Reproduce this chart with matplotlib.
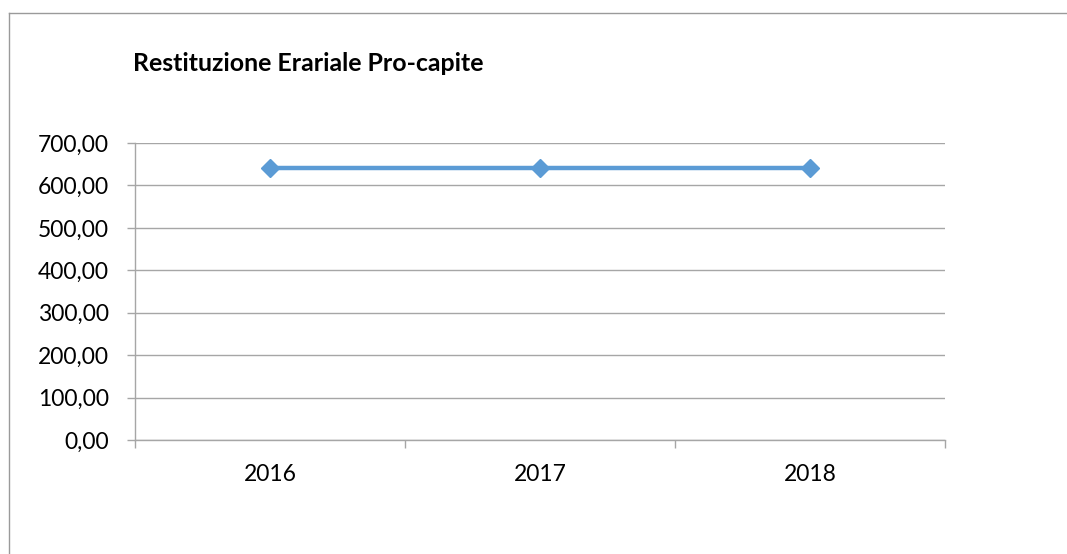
import matplotlib
matplotlib.use('Agg')
import matplotlib.pyplot as plt
from matplotlib.ticker import FuncFormatter, FixedLocator
from matplotlib.lines import Line2D

plt.rcParams['font.family'] = ['Lato', 'DejaVu Sans']

years = ['2016', '2017', '2018']
values = [640.0, 640.0, 640.0]
title = 'Restituzione Erariale Pro-capite'

W, H = 1067, 554
fig = plt.figure(figsize=(W / 100, H / 100), dpi=100)
ax = fig.add_axes([135 / W, 1 - 440 / H, (945 - 135) / W, (440 - 143) / H])

x = list(range(1, len(years) + 1))
ax.plot(x, values, color='#5B9BD5', lw=3.2, marker='D', ms=9,
        markerfacecolor='#5B9BD5', markeredgecolor='#5B9BD5', zorder=3,
        solid_capstyle='butt')

ax.set_xlim(0.5, len(years) + 0.5)
ax.set_ylim(0, 700)
ax.set_yticks(range(0, 701, 100))
ax.yaxis.set_major_formatter(FuncFormatter(lambda v, p: f'{v:.2f}'.replace('.', ',')))
ax.set_xticks(x)
ax.set_xticklabels(years)
ax.xaxis.set_minor_locator(FixedLocator([i + 0.5 for i in range(len(years) + 1)]))

grid_c = '#A6A6A6'
ax.grid(axis='y', color=grid_c, lw=1.0, zorder=0)
for s in ['top', 'right']:
    ax.spines[s].set_visible(False)
for s in ['left', 'bottom']:
    ax.spines[s].set_color(grid_c)
    ax.spines[s].set_linewidth(1.0)

ax.tick_params(axis='y', length=6, width=1.0, color=grid_c, pad=13,
               labelsize=16.5, labelcolor='black')
ax.tick_params(axis='x', which='major', length=0, pad=17, labelsize=16.5,
               labelcolor='black')
ax.tick_params(axis='x', which='minor', length=6, width=1.0, color=grid_c,
               direction='out')

fig.text(133 / W, 1 - 63 / H, title, fontsize=17.9, fontweight='bold',
         ha='left', va='center')

# chart area border (left and top edges visible)
fig.add_artist(Line2D([8.5 / W, 8.5 / W], [0, 1 - 12.5 / H], transform=fig.transFigure,
                      color='#9A9A9A', lw=1.0))
fig.add_artist(Line2D([8.5 / W, 1], [1 - 12.5 / H, 1 - 12.5 / H], transform=fig.transFigure,
                      color='#9A9A9A', lw=1.0))

fig.savefig('out.png', dpi=100)
